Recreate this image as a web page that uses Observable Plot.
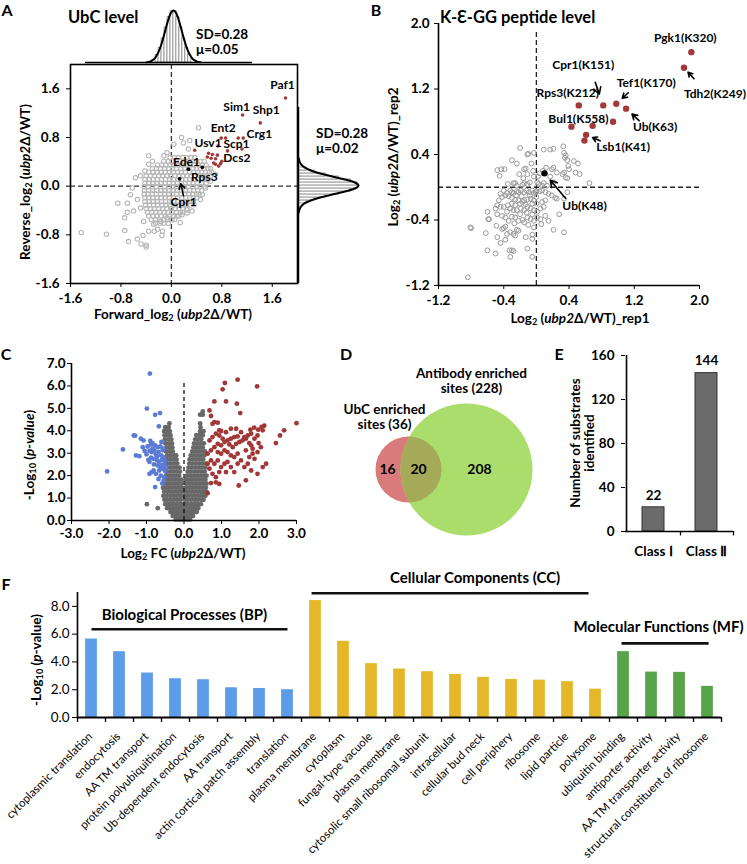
<!DOCTYPE html>
<html><head><meta charset="utf-8">
<script src="https://cdn.jsdelivr.net/npm/d3@7"></script>
<script src="https://cdn.jsdelivr.net/npm/@observablehq/plot@0.6"></script>
<style>
body{margin:0;background:#fff;}
#root{position:relative;width:747px;height:864px;overflow:hidden;background:#fff;font-family:Lato,"Open Sans",sans-serif;color:#000}
sub{font-size:0.68em;vertical-align:-0.25em;line-height:0}
</style></head><body><div id="root"></div>
<script>
// ---------------- DATA ----------------
// Panel A: UbC level scatter (Forward vs Reverse log2 ratios)
const aCoreRows = [
 [0.47,[-0.02,0.05,0.11,0.18,0.24,0.31,0.37]],
 [0.41,[-0.12,-0.05,0.01,0.08,0.14,0.2,0.27,0.33,0.4,0.46,0.52]],
 [0.35,[-0.22,-0.15,-0.09,-0.02,0.04,0.11,0.17,0.23,0.3,0.36,0.43,0.49,0.55]],
 [0.29,[-0.3,-0.24,-0.17,-0.11,-0.04,0.02,0.08,0.15,0.21,0.34,0.4,0.46,0.52,0.58,0.62]],
 [0.23,[-0.36,-0.29,-0.23,-0.16,-0.1,-0.03,0.03,0.1,0.16,0.22,0.29,0.35,0.42,0.48,0.54,0.6,0.64]],
 [0.17,[-0.4,-0.33,-0.27,-0.2,-0.14,-0.07,-0.01,0.06,0.12,0.18,0.25,0.31,0.38,0.44,0.5,0.56,0.62]],
 [0.11,[-0.42,-0.35,-0.29,-0.22,-0.16,-0.09,-0.03,0.04,0.1,0.16,0.23,0.29,0.35,0.42,0.48,0.54,0.58]],
 [0.05,[-0.42,-0.36,-0.29,-0.23,-0.16,-0.1,-0.03,0.03,0.09,0.16,0.22,0.28,0.35,0.41,0.48,0.55]],
 [-0.01,[-0.43,-0.37,-0.3,-0.24,-0.17,-0.11,-0.04,0.02,0.08,0.15,0.21,0.27,0.34,0.4,0.46,0.52]],
 [-0.07,[-0.43,-0.36,-0.3,-0.23,-0.17,-0.1,-0.04,0.03,0.09,0.16,0.22,0.29,0.35,0.42,0.48]],
 [-0.13,[-0.43,-0.37,-0.3,-0.24,-0.17,-0.11,-0.04,0.02,0.08,0.15,0.21,0.28,0.34,0.4,0.44]],
 [-0.19,[-0.42,-0.36,-0.29,-0.23,-0.16,-0.1,-0.03,0.03,0.1,0.16,0.23,0.29,0.35,0.4]],
 [-0.25,[-0.42,-0.35,-0.29,-0.22,-0.16,-0.09,-0.03,0.04,0.1,0.17,0.23,0.29,0.35]],
 [-0.31,[-0.41,-0.35,-0.28,-0.22,-0.15,-0.09,-0.02,0.04,0.11,0.17,0.24,0.3]],
 [-0.37,[-0.4,-0.33,-0.27,-0.2,-0.14,-0.07,-0.01,0.06,0.12,0.18,0.24]],
 [-0.43,[-0.38,-0.31,-0.25,-0.18,-0.12,-0.05,0.01,0.08,0.14,0.18]],
 [-0.49,[-0.36,-0.29,-0.23,-0.16,-0.1,-0.03,0.03,0.09,0.12]],
 [-0.55,[-0.32,-0.25,-0.19,-0.12,-0.06,0.01,0.05]],
 [-0.61,[-0.25,-0.18,-0.12,-0.05]]
];
const aGrayOuter = [
 [-1.43,-0.76],[-1.03,-0.79],[-0.85,-0.28],[-0.70,-0.28],[-0.70,-0.43],[-0.74,-0.52],[-0.74,-0.73],[-0.68,-0.91],
 [-0.48,-0.95],[-0.40,-0.97],[-0.40,-1.0],[-0.54,-0.87],[-0.45,-0.81],[-0.27,-0.74],[-0.14,-0.74],[-0.15,-0.81],
 [-0.36,0.36],[-0.30,0.41],[-0.42,0.25],[-0.49,0.17],[-0.57,0.14],[-0.62,-0.03],[-0.65,-0.14],[-0.54,-0.22],
 [-0.49,-0.36],[-0.60,-0.41],[-0.44,-0.58],[-0.28,-0.63],[-0.17,-0.58],[-0.07,-0.52],[0.04,-0.49],[0.17,-0.47],
 [0.25,-0.39],[0.36,-0.30],[0.46,-0.22],[0.49,-0.14],[0.54,-0.03],[0.62,0.08],[0.70,0.19],[0.25,-0.44],[0.14,-0.60],
 [0.33,-0.41],[-0.22,-0.71],[-0.36,-0.74],[0.43,0.96],[0.16,0.80],[0.19,0.71],[0.29,0.75],[0.27,0.61],[0.04,0.69],
 [-0.07,0.55],[-0.12,0.50],[-0.36,0.50]
];
const aRedX = [1.81,1.13,1.41,1.14,1.06,1.12,0.79,0.86,0.74,0.89,0.37,0.59,0.65,0.73,0.57,0.63,0.70,0.80,0.75,0.70,0.67,0.78];
const aRedY = [1.45,1.17,1.04,0.79,0.79,0.61,0.79,0.79,0.66,0.58,0.59,0.54,0.52,0.51,0.48,0.46,0.45,0.41,0.33,0.36,0.38,0.37];
const aRedNames = ["Paf1","Sim1","Shp1","Crg1","","","Ent2","","Usv1","Scp1","","","","","","","","Dcs2","","","",""];
const aBlackX = [0.27,0.49,0.13];
const aBlackY = [0.28,0.31,0.12];
const aBlackNames = ["Ede1","Rps3","Cpr1"];
const aTicks = [-1.6,-0.8,0,0.8,1.6];
// marginal histograms (top: forward, right: reverse)
const topBinX = [-0.5,-0.4,-0.3,-0.2,-0.1,0,0.1,0.2,0.3,0.4,0.5,0.6];
const topBinN = [7.5,14.3,24,35,45.3,51.2,51.2,45.3,35,24,14.3,7.5];
const topCurveX = [-0.85,-0.75,-0.65,-0.55,-0.45,-0.35,-0.25,-0.15,-0.05,0.05,0.15,0.25,0.35,0.45,0.55,0.65,0.75,0.85,0.95];
const topCurveN = [0.3,0.9,2.3,5.2,10.6,18.7,29.3,40.3,48.8,52,48.8,40.3,29.3,18.7,10.6,5.2,2.3,0.9,0.3];
const rightBinY = [-0.53,-0.43,-0.33,-0.23,-0.13,-0.03,0.07,0.17,0.27,0.37,0.47,0.57];
const rightBinN = [7.5,14.3,24,35,45.3,51.2,51.2,45.3,35,24,14.3,7.5];
const rightCurveY = [-0.88,-0.78,-0.68,-0.58,-0.48,-0.38,-0.28,-0.18,-0.08,0.02,0.12,0.22,0.32,0.42,0.52,0.62,0.72,0.82,0.92];
const rightCurveN = [0.3,0.9,2.3,5.2,10.6,18.7,29.3,40.3,48.8,52,48.8,40.3,29.3,18.7,10.6,5.2,2.3,0.9,0.3];

// Panel B: K-e-GG peptide level
const bGray = [
 [-0.20,0.48],[-0.11,0.40],[-0.10,0.41],[-0.03,0.42],[-0.24,0.29],[-0.30,0.33],[-0.15,0.22],[-0.13,0.23],[0.09,0.46],[0.17,0.46],
 [0.21,0.47],[0.33,0.50],[0.34,0.42],[0.36,0.39],[0.35,0.36],[0.38,0.33],[0.39,0.26],[0.40,0.22],[0.46,0.32],[0.51,0.29],
 [0.48,0.18],[0.53,0.16],[0.65,0.05],[-0.48,0.21],[-0.43,0.22],[-0.39,0.22],[-0.45,0.14],[-0.35,0.04],[-0.28,0.05],[-0.26,0.05],
 [-0.21,0.16],[-0.16,0.11],[-0.11,0.16],[-0.06,0.29],[-0.04,0.20],[-0.03,0.13],[0.02,0.13],[0.04,0.17],[0.08,0.20],[0.12,0.24],
 [0.19,0.22],[0.21,0.24],[0.25,0.18],[0.32,0.16],[0.34,0.18],[0.36,0.12],[0.38,0.11],[0.17,0.13],[0.21,0.06],[0.09,0.05],
 [0.13,0.02],[0.07,0.02],[0.03,0.04],[0.01,0.06],[-0.08,0.06],[-0.11,0.04],[-0.17,0.03],[-0.15,0.05],[-0.24,0.02],
 [-0.36,-0.07],[-0.32,-0.04],[-0.30,-0.06],[-0.28,-0.07],[-0.24,-0.05],[-0.22,-0.06],[-0.19,-0.04],[-0.15,-0.06],[-0.12,-0.04],
 [-0.09,-0.06],[-0.05,-0.04],[-0.03,-0.07],[-0.01,-0.06],[0.04,-0.05],[0.07,-0.04],[0.11,-0.06],[0.15,-0.08],[0.19,-0.10],
 [0.23,-0.13],[0.25,-0.14],[0.34,-0.14],[0.38,-0.06],[0.11,-0.16],[0.07,-0.18],[0.00,-0.20],[-0.03,-0.16],[-0.07,-0.14],
 [-0.11,-0.15],[-0.15,-0.16],[-0.17,-0.18],[-0.22,-0.16],[-0.26,-0.15],[-0.30,-0.13],[-0.34,-0.11],[-0.38,-0.10],[-0.42,-0.12],
 [-0.46,-0.16],[-0.48,-0.22],[-0.50,-0.26],[-0.44,-0.24],[-0.40,-0.24],[-0.35,-0.22],[-0.32,-0.26],[-0.28,-0.28],[-0.24,-0.28],
 [-0.19,-0.26],[-0.15,-0.28],[-0.11,-0.24],[-0.07,-0.26],[-0.03,-0.28],[0.01,-0.30],[0.05,-0.26],[0.09,-0.24],[-0.60,-0.30],
 [-0.58,-0.39],[-0.59,-0.39],[-0.48,-0.33],[-0.42,-0.35],[-0.38,-0.37],[-0.34,-0.41],[-0.30,-0.36],[-0.26,-0.37],[-0.22,-0.41],
 [-0.17,-0.40],[-0.15,-0.43],[-0.11,-0.37],[-0.07,-0.39],[-0.03,-0.41],[0.01,-0.37],[0.05,-0.39],[0.06,-0.45],[0.11,-0.35],
 [0.15,-0.41],[0.21,-0.52],[0.28,-0.33],[0.34,-0.55],[-0.49,-0.47],[-0.81,-0.49],[-0.80,-0.50],[-0.62,-0.56],[-0.48,-0.61],
 [-0.42,-0.51],[-0.40,-0.50],[-0.38,-0.48],[-0.36,-0.57],[-0.32,-0.55],[-0.28,-0.57],[-0.26,-0.59],[-0.24,-0.52],[-0.22,-0.53],
 [-0.13,-0.61],[-0.05,-0.58],[-0.03,-0.49],[-0.60,-0.77],[-0.50,-0.81],[-0.44,-0.68],[-0.38,-0.64],[-0.33,-0.77],[-0.30,-0.77],
 [-0.28,-0.78],[-0.32,-0.85],[-0.11,-0.75],[-0.05,-0.85],[-0.05,-0.63],[-0.84,-1.10],
 [-0.30,-0.20],[-0.26,-0.22],[-0.20,-0.20],[-0.13,-0.21],[-0.05,-0.20],[-0.18,-0.11],[-0.08,-0.10],[0.00,-0.12],[-0.25,-0.10],
 [-0.20,-0.33],[-0.12,-0.31],[-0.05,-0.33],[-0.36,-0.30],[-0.27,-0.44],[-0.10,-0.46],[0.00,-0.05],[-0.40,-0.04],[-0.44,-0.08]
];
const bRedX = [1.90,1.81,0.52,0.82,0.98,1.10,0.94,0.43,0.69,0.61,0.59];
const bRedY = [1.65,1.46,1.00,1.00,1.02,0.96,0.80,0.74,0.75,0.64,0.57];
const bRedNames = ["Pgk1(K320)","Tdh2(K249)","Rps3(K212)","Cpr1(K151)","Tef1(K170)","Ub(K63)","","Bul1(K558)","","Lsb1(K41)",""];
const bBlackX = [0.10];
const bBlackY = [0.17];
const bBlackNames = ["Ub(K48)"];
const bTicks = [-1.2,-0.4,0.4,1.2,2.0];

// Panel C: volcano plot
const cGrayRows = [
 [0.05,[-0.22,-0.15,-0.08,-0.02,0.04,0.1,0.16]],
 [0.2,[-0.3,-0.22,-0.14,-0.06,0.02,0.09,0.17,0.24]],
 [0.38,[-0.36,-0.28,-0.19,-0.11,-0.03,0.04,0.12,0.2,0.28,0.34]],
 [0.55,[-0.7,-0.45,-0.38,-0.3,-0.21,-0.12,-0.04,0.05,0.14,0.22,0.3,0.38]],
 [0.73,[-0.99,-0.5,-0.41,-0.33,-0.25,-0.16,-0.07,0.03,0.11,0.2,0.29,0.37,0.45]],
 [0.92,[-0.52,-0.44,-0.35,-0.27,-0.18,-0.09,0.02,0.1,0.19,0.28,0.36,0.45,0.52]],
 [1.1,[-0.55,-0.46,-0.37,-0.28,-0.2,-0.11,-0.03,0.05,0.13,0.22,0.31,0.4,0.49,0.57]],
 [1.28,[-0.53,-0.44,-0.35,-0.26,-0.17,-0.08,0.02,0.1,0.19,0.28,0.37,0.46,0.54,0.6]],
 [1.46,[-0.56,-0.48,-0.4,-0.31,-0.22,-0.13,-0.05,0.05,0.14,0.23,0.32,0.41,0.5,0.58]],
 [1.64,[-0.52,-0.44,-0.35,-0.26,-0.17,-0.08,0.07,0.16,0.25,0.34,0.43,0.52,0.6]],
 [1.82,[-0.5,-0.42,-0.33,-0.24,-0.15,-0.07,0.04,0.12,0.21,0.3,0.39,0.48,0.57]],
 [2.0,[-0.48,-0.4,-0.31,-0.22,-0.13,0.08,0.17,0.26,0.35,0.44,0.53,0.6]],
 [2.18,[-0.46,-0.37,-0.28,-0.19,-0.11,0.1,0.19,0.28,0.37,0.46,0.55]],
 [2.36,[-0.45,-0.36,-0.28,-0.2,-0.12,0.12,0.21,0.3,0.39,0.48,0.57]],
 [2.54,[-0.44,-0.35,-0.26,-0.18,0.14,0.22,0.31,0.4,0.49,0.58]],
 [2.72,[-0.46,-0.37,-0.28,-0.2,0.15,0.24,0.33,0.42,0.51]],
 [2.9,[-0.45,-0.36,-0.27,-0.21,0.18,0.27,0.36,0.45,0.54]],
 [3.08,[-0.48,-0.39,-0.3,0.22,0.3,0.39,0.48,0.56]],
 [3.26,[-0.47,-0.38,-0.31,0.25,0.33,0.42,0.5]],
 [3.44,[-0.5,-0.41,-0.32,0.27,0.36,0.45,0.53]],
 [3.62,[-0.51,-0.42,-0.34,0.3,0.38,0.46]],
 [3.8,[-0.52,-0.43,-0.36,0.33,0.42,0.5]],
 [3.98,[-0.53,-0.45,-0.38,0.43,0.52]],
 [4.16,[-0.5,-0.41,0.44]],
 [4.33,[-0.39,0.43]],
 [4.72,[0.43,0.5]],
 [4.86,[0.5]]
];
const cBlue = [
 [-0.91,6.55],[-0.99,4.99],[-0.77,4.71],[-0.64,4.79],[-0.67,4.2],[-1.34,3.79],[-1.30,3.78],[-1.15,3.65],[-1.08,3.57],[-1.63,3.17],
 [-2.05,2.19],[-1.28,2.9],[-1.19,2.87],[-1.10,3.27],[-0.97,3.3],[-0.88,3.39],[-0.84,3.2],[-0.77,3.35],[-0.70,3.27],[-0.63,3.3],
 [-0.57,3.13],[-0.92,3.1],[-0.86,3.05],[-0.79,3.13],[-0.75,2.95],[-0.68,3.05],[-0.61,2.9],[-0.54,2.83],[-0.81,2.75],[-0.72,2.68],
 [-0.66,2.61],[-0.59,2.71],[-0.52,2.53],[-0.92,2.61],[-0.86,2.16],[-0.92,2.08],[-0.81,2.23],[-0.75,2.08],[-0.70,2.46],[-0.63,2.38],
 [-0.57,2.31],[-0.66,2.23],[-0.52,1.93],[-0.54,1.79],[-0.77,1.49],[-0.48,2.38],[-0.51,2.68],[-0.59,2.46],[-1.0,2.95],[-0.95,2.7],
 [-0.88,2.8],[-0.8,2.5],[-0.72,2.85],[-0.6,3.5],[-0.55,3.2],[-1.05,3.1],[-0.9,3.55],[-0.84,3.45],[-0.5,2.2],[-0.62,2.0],
 [-0.68,1.85],[-0.58,1.65]
];
const cRed = [
 [1.09,6.13],[1.43,6.28],[1.03,5.85],[1.95,5.98],[0.81,5.31],[1.12,5.31],[1.41,5.21],[0.68,4.91],[0.72,4.66],[1.50,4.79],
 [0.81,4.39],[0.90,4.36],[0.76,4.31],[0.94,4.02],[0.99,3.99],[1.39,4.09],[1.77,4.05],[1.87,4.14],[1.98,4.05],[2.07,4.17],
 [2.14,4.23],[2.10,4.02],[3.0,4.34],[2.67,4.02],[2.56,3.79],[2.45,3.45],[1.99,3.45],[1.74,3.45],[1.79,3.35],[1.83,3.2],
 [2.19,2.53],[2.10,2.38],[1.52,2.68],[1.70,2.53],[1.88,2.75],[1.34,2.16],[1.46,1.56],[1.65,1.79],[0.63,1.22],[0.72,1.67],
 [0.85,1.70],[0.94,1.63],[0.63,2.98],[0.72,3.13],[0.81,3.27],[0.90,3.42],[0.99,3.35],[1.08,3.50],[1.16,3.57],[1.25,3.65],
 [1.34,3.72],[1.43,3.75],[1.21,3.39],[1.30,3.27],[1.39,3.42],[1.48,3.50],[1.56,3.57],[1.65,3.65],[0.90,3.05],[0.99,2.98],
 [1.08,3.13],[1.16,3.05],[1.25,2.90],[1.34,2.83],[1.43,2.98],[0.72,2.68],[0.81,2.53],[0.90,2.68],[0.99,2.38],[1.08,2.53],
 [1.16,2.61],[1.25,2.38],[0.68,2.31],[0.76,2.08],[0.85,1.93],[0.94,2.16],[1.12,2.16],[0.63,2.53],[0.68,3.57],[0.76,3.72],
 [0.85,3.87],[0.94,3.79],[1.03,3.65],[1.12,3.94],[1.25,4.09],[1.70,3.79],[1.79,3.87],[1.88,3.65],[1.96,3.79],[1.52,3.94],
 [1.61,3.72],[1.65,3.13],[1.74,2.83],[1.83,2.98],[1.96,3.05],[2.05,3.27],[1.43,2.53],[1.61,2.38],[1.79,2.23],[1.96,2.08]
];

// Panel D: Venn counts
const vennOnlyUbC = 16, vennShared = 20, vennOnlyAb = 208;
const vennTotals = [36, 228];

// Panel E: substrates per class
const eClasses = ["Class \u2160", "Class \u2161"];
const eCounts = [22, 144];

// Panel F: GO enrichment
const fTerms = ["cytoplasmic translation","endocytosis","AA TM transport","protein polyubiquitination","Ub-dependent endocytosis",
 "AA transport","actin cortical patch assembly","translation","plasma membrane","cytoplasm","fungal-type vacuole","plasma membrane",
 "cytosolic small ribosomal subunit","intracellular","cellular bud neck","cell periphery","ribosome","lipid particle","polysome",
 "ubiquitin binding","antiporter activity","AA TM transporter activity","structural constituent of ribosome"];
const fValues = [5.65,4.74,3.20,2.79,2.72,2.14,2.09,2.00,8.42,5.49,3.88,3.49,3.30,3.10,2.89,2.74,2.69,2.58,2.04,4.74,3.27,3.25,2.24];
const fGroups = ["BP","BP","BP","BP","BP","BP","BP","BP","CC","CC","CC","CC","CC","CC","CC","CC","CC","CC","CC","MF","MF","MF","MF"];
const fGroupNames = {BP:"Biological Processes (BP)", CC:"Cellular Components (CC)", MF:"Molecular Functions (MF)"};

// ---------------- HELPERS ----------------
const FONT = "Lato, 'Open Sans', sans-serif";
const root = document.getElementById("root");
const fmt1 = d => (+d).toFixed(1);
const baseStyle = {fontFamily: FONT, fontSize: "13.5px", fontWeight: "bold", background: "transparent", overflow: "visible", color: "#000"};
function place(el, left, top) {
  el.style.position = "absolute"; el.style.left = left + "px"; el.style.top = top + "px";
  el.style.maxWidth = "none";
  root.appendChild(el); return el;
}
function label(html, x, y, o = {}) {
  const d = document.createElement("div");
  d.innerHTML = html;
  const start = o.anchor === "start";
  d.style.cssText = `position:absolute;left:${x}px;top:${y}px;font-size:${o.size || 13}px;font-weight:${o.weight || "bold"};` +
    `white-space:nowrap;line-height:${o.lh || 1.1};text-align:center;` +
    `transform:translate(${start ? "0" : "-50%"},-50%) rotate(${o.rot || 0}deg);transform-origin:${start ? "0 50%" : "50% 50%"}`;
  root.appendChild(d);
}
const pts = (xs, ys, names) => xs.map((x, i) => ({x, y: ys[i], name: names ? names[i] : ""}));

// ---------------- PANEL A ----------------
const aGray = [];
aCoreRows.forEach(([y, xs]) => xs.forEach(x => aGray.push({x, y})));
aGrayOuter.forEach(([x, y]) => aGray.push({x, y}));
const aRed = pts(aRedX, aRedY, aRedNames);
const aBlack = pts(aBlackX, aBlackY, aBlackNames);
const aOff = {Paf1:[-3,-13], Sim1:[-6,-8], Shp1:[6,-13], Crg1:[16,-4], Ent2:[2,-10], Usv1:[-10,-3], Scp1:[9,-7], Dcs2:[15,-3],
  Ede1:[-2,-7], Rps3:[2,10], Cpr1:[4,23]};
const aW = 370, aH = 320, aML = 70, aMR = 73, aMT = 64, aMB = 37;
const akx = (aW - aML - aMR) / 3.6, aky = (aH - aMT - aMB) / 3.6;
const aLabelled = [...aRed, ...aBlack].filter(d => d.name);
const aCpr = aBlack.filter(d => d.name === "Cpr1");
const plotA = Plot.plot({
  width: aW, height: aH, marginLeft: aML, marginRight: aMR, marginTop: aMT, marginBottom: aMB,
  style: baseStyle,
  x: {domain: [-1.6, 2.0], ticks: aTicks, tickFormat: fmt1, tickSize: 4, tickPadding: 6, label: null},
  y: {domain: [-1.6, 2.0], ticks: aTicks, tickFormat: fmt1, tickSize: 4, tickPadding: 7, label: null},
  marks: [
    Plot.ruleX([0], {stroke: "#333", strokeWidth: 1.3, strokeDasharray: "5,3"}),
    Plot.ruleY([0], {stroke: "#333", strokeWidth: 1.3, strokeDasharray: "5,3"}),
    Plot.dot(aGray, {x: "x", y: "y", r: 2.2, stroke: "#b6b6b6", strokeWidth: 1.1}),
    Plot.dot(aRed, {x: "x", y: "y", r: 1.8, fill: "#a33a3a"}),
    Plot.dot(aBlack, {x: "x", y: "y", r: 1.9, fill: "#000"}),
    ...aLabelled.map(d => Plot.text([d], {x: "x", y: "y", text: "name", dx: aOff[d.name][0], dy: aOff[d.name][1], fontSize: 12, fontWeight: "bold"})),
    Plot.arrow(aCpr, {x1: d => d.x + 4 / akx, y1: d => d.y - 17 / aky, x2: "x", y2: "y", insetEnd: 5, headLength: 6, strokeWidth: 1.5, stroke: "#000"}),
    Plot.frame({stroke: "#000", strokeWidth: 1.6})
  ]
});
place(plotA, 0, 0);

const topBins = topBinX.map((x, i) => ({x, n: topBinN[i]}));
const topCurve = topCurveX.map((x, i) => ({x, n: topCurveN[i]}));
const plotTop = Plot.plot({
  width: 180, height: 66, marginLeft: 5, marginRight: 8, marginTop: 10, marginBottom: 4, style: baseStyle,
  x: {domain: [-2.9, 2.7], axis: null}, y: {domain: [0, 52], axis: null},
  marks: [
    Plot.rectY(topBins, {x1: d => d.x - 0.05, x2: d => d.x + 0.05, y: "n", fill: "white", stroke: "#666", strokeWidth: 0.6}),
    Plot.line(topCurve, {x: "x", y: "n", curve: "natural", stroke: "#000", strokeWidth: 2}),
    Plot.ruleY([0], {stroke: "#000", strokeWidth: 1.5})
  ]
});
place(plotTop, 80, 0);

const rightBins = rightBinY.map((y, i) => ({y, n: rightBinN[i]}));
const rightCurve = rightCurveY.map((y, i) => ({y, n: rightCurveN[i]}));
const plotRight = Plot.plot({
  width: 70, height: 190, marginLeft: 2, marginRight: 8, marginTop: 7, marginBottom: 7, style: baseStyle,
  x: {domain: [0, 52], axis: null}, y: {domain: [-3.25, 2.62], axis: null},
  marks: [
    Plot.rectX(rightBins, {y1: d => d.y - 0.05, y2: d => d.y + 0.05, x: "n", fill: "white", stroke: "#666", strokeWidth: 0.6}),
    Plot.line(rightCurve, {x: "n", y: "y", curve: "natural", stroke: "#000", strokeWidth: 2}),
    Plot.ruleX([0], {stroke: "#000", strokeWidth: 1.5})
  ]
});
place(plotRight, 296, 100);

label("A", 7, 10, {size: 16, lh: 1});
label("UbC level", 68, 17, {size: 16.5, anchor: "start"});
label("SD=0.28", 196, 34, {size: 13.5, anchor: "start"});
label("\u03bc=0.05", 196, 49, {size: 13.5, anchor: "start"});
label("SD=0.28", 316, 133, {size: 13.5, anchor: "start"});
label("\u03bc=0.02", 316, 148, {size: 13.5, anchor: "start"});
label("Reverse_log<sub>2</sub> (<i>ubp2</i>\u0394/WT)", 25, 182, {size: 13.5, rot: -90});
label("Forward_log<sub>2</sub> (<i>ubp2</i>\u0394/WT)", 173, 314, {size: 13.5});

// ---------------- PANEL B ----------------
const bGrayPts = bGray.map(([x, y]) => ({x, y}));
const bRed = pts(bRedX, bRedY, bRedNames);
const bBlack = pts(bBlackX, bBlackY, bBlackNames);
const bW = 377, bH = 320, bML = 68, bMR = 48, bMT = 23, bMB = 35;
const bkx = (bW - bML - bMR) / 3.2, bky = (bH - bMT - bMB) / 3.2;
const bOff = {"Pgk1(K320)":[-6,-14], "Tdh2(K249)":[31,26], "Cpr1(K151)":[-20,-40], "Tef1(K170)":[30,-21], "Rps3(K212)":[-11,-12],
  "Bul1(K558)":[7,-8], "Ub(K63)":[29,19], "Lsb1(K41)":[37,12], "Ub(K48)":[40,33]};
// arrow tails, pixel offsets from the point, and head gap
const bArrow = {"Cpr1(K151)":[-8,-23,12], "Tef1(K170)":[12,-11,8], "Ub(K63)":[13,12,8], "Tdh2(K249)":[10,11,6], "Lsb1(K41)":[14,6,7], "Ub(K48)":[21,25,9]};
const bLabelled = [...bRed, ...bBlack].filter(d => d.name);
const plotB = Plot.plot({
  width: bW, height: bH, marginLeft: bML, marginRight: bMR, marginTop: bMT, marginBottom: bMB, style: baseStyle,
  x: {domain: [-1.2, 2.0], ticks: bTicks, tickFormat: fmt1, tickSize: 4, tickPadding: 6, label: null},
  y: {domain: [-1.2, 2.0], ticks: bTicks, tickFormat: fmt1, tickSize: 4, tickPadding: 5, label: null},
  marks: [
    Plot.ruleX([0], {y1: -1.2, y2: 1.9, stroke: "#222", strokeWidth: 1.3, strokeDasharray: "5,3"}),
    Plot.ruleY([0], {stroke: "#222", strokeWidth: 1.3, strokeDasharray: "5,3"}),
    Plot.dot(bGrayPts, {x: "x", y: "y", r: 2.4, stroke: "#9a9a9a", strokeWidth: 1}),
    Plot.dot(bRed, {x: "x", y: "y", r: 3.2, fill: "#a33a3a"}),
    Plot.dot(bBlack, {x: "x", y: "y", r: 3.2, fill: "#000"}),
    ...bLabelled.map(d => Plot.text([d], {x: "x", y: "y", text: "name", dx: bOff[d.name][0], dy: bOff[d.name][1], fontSize: 12, fontWeight: "bold"})),
    ...bLabelled.filter(d => bArrow[d.name]).map(d => Plot.arrow([d], {
      x1: e => e.x + bArrow[d.name][0] / bkx, y1: e => e.y - bArrow[d.name][1] / bky, x2: "x", y2: "y",
      insetEnd: bArrow[d.name][2], headLength: 7, strokeWidth: 1.6, stroke: "#000"})),
    Plot.ruleX([-1.2], {stroke: "#000", strokeWidth: 1.6}),
    Plot.ruleY([-1.2], {stroke: "#000", strokeWidth: 1.6})
  ]
});
place(plotB, 370, 0);
label("B", 376, 10, {size: 16, lh: 1});
label("K-\u0190-GG peptide level", 440, 17, {size: 16.5, anchor: "start"});
label("Log<sub>2</sub> (<i>ubp2</i>\u0394/WT)_rep2", 393, 157, {size: 13.5, rot: -90});
label("Log<sub>2</sub> (<i>ubp2</i>\u0394/WT)_rep1", 580, 318, {size: 13.5});

// ---------------- PANEL C ----------------
const cGray = [];
cGrayRows.forEach(([y, xs]) => xs.forEach(x => cGray.push({x, y})));
const plotC = Plot.plot({
  width: 320, height: 240, marginLeft: 71, marginRight: 24, marginTop: 33, marginBottom: 50, style: baseStyle,
  x: {domain: [-3, 3], ticks: d3.range(-3, 4), tickFormat: fmt1, tickSize: 4, tickPadding: 4, label: null},
  y: {domain: [0, 7], ticks: d3.range(0, 8), tickFormat: fmt1, tickSize: 4, tickPadding: 2, label: null},
  marks: [
    Plot.dot(cGray, {x: "x", y: "y", r: 2.4, fill: "#686868"}),
    Plot.dot(cBlue.map(([x, y]) => ({x, y})), {x: "x", y: "y", r: 2.4, fill: "#5a7bd5"}),
    Plot.dot(cRed.map(([x, y]) => ({x, y})), {x: "x", y: "y", r: 2.4, fill: "#a13737"}),
    Plot.ruleX([0], {y1: 0, y2: 6.2, stroke: "#111", strokeWidth: 1.3, strokeDasharray: "4,3"}),
    Plot.ruleX([-3], {stroke: "#000", strokeWidth: 1.6}),
    Plot.ruleY([0], {stroke: "#000", strokeWidth: 1.6})
  ]
});
place(plotC, 0, 330);
label("C", 6, 354, {size: 16, lh: 1});
label("-Log<sub>10</sub> (<i>p-value</i>)", 29, 455, {size: 13.5, rot: -90});
label("Log<sub>2</sub> FC (<i>ubp2</i>\u0394/WT)", 183, 553, {size: 13.5});

// ---------------- PANEL D ----------------
const vennCircles = [
  {name: `UbC enriched\nsites (${vennTotals[0]})`, cx: 78, cy: 139, r: 33},
  {name: `Antibody enriched\nsites (${vennTotals[1]})`, cx: 136, cy: 139, r: 66}
];
const vennCounts = [
  {n: vennOnlyUbC, x: 57, y: 139},
  {n: vennShared, x: 88, y: 139},
  {n: vennOnlyAb, x: 149, y: 139}
];
const plotD = Plot.plot({
  width: 220, height: 230, margin: 0, style: baseStyle,
  x: {type: "identity", axis: null}, y: {type: "identity", axis: null},
  marks: [
    Plot.dot([vennCircles[0]], {x: "cx", y: "cy", r: vennCircles[0].r, fill: "#d97a7c"}),
    Plot.dot([vennCircles[1]], {x: "cx", y: "cy", r: vennCircles[1].r, fill: "#abdd6c"}),
    Plot.dot([vennCircles[0]], {x: "cx", y: "cy", r: vennCircles[0].r, fill: "#a4aa58"}),
    Plot.text(vennCounts, {x: "x", y: "y", text: d => String(d.n), fontSize: 14, fontWeight: "bold"}),
    Plot.text([vennCircles[0]], {x: 54, y: 86, text: "name", fontSize: 13.5, fontWeight: "bold", lineHeight: 1.15}),
    Plot.text([vennCircles[1]], {x: 141, y: 50, text: "name", fontSize: 13.5, fontWeight: "bold", lineHeight: 1.15})
  ]
});
{
  const groups = plotD.querySelectorAll('g[aria-label="dot"]');
  const green = groups[1].querySelector("circle");
  const ns = "http://www.w3.org/2000/svg";
  const defs = document.createElementNS(ns, "defs");
  const cp = document.createElementNS(ns, "clipPath");
  cp.setAttribute("id", "vennClip");
  cp.appendChild(green.cloneNode(true));
  defs.appendChild(cp);
  plotD.insertBefore(defs, plotD.firstChild);
  groups[2].setAttribute("clip-path", "url(#vennClip)");
}
place(plotD, 330, 330);
label("D", 346, 354, {size: 16, lh: 1});

// ---------------- PANEL E ----------------
const eData = eClasses.map((c, i) => ({c, n: eCounts[i]}));
const plotE = Plot.plot({
  width: 187, height: 240, marginLeft: 65, marginRight: 14, marginTop: 25, marginBottom: 39, style: baseStyle,
  x: {domain: eClasses, paddingInner: 0.59, paddingOuter: 0.3, tickSize: 0, tickPadding: 15, label: null},
  y: {domain: [0, 160], ticks: [0, 40, 80, 120, 160], tickSize: 4, tickPadding: 7, label: null},
  marks: [
    Plot.barY(eData, {x: "c", y: "n", fill: "#6b6b6b", stroke: "#333", strokeWidth: 1}),
    Plot.text(eData, {x: "c", y: "n", text: d => String(d.n), dy: -12, fontSize: 13.5, fontWeight: "bold"}),
    Plot.ruleY([0], {stroke: "#000", strokeWidth: 1.6}),
    Plot.ruleX([eClasses[0]], {dx: -27, y1: 0, y2: 160, stroke: "#000", strokeWidth: 1.6}),
    Plot.ruleX(eClasses, {dx: 27, y1: 0, y2: -4, stroke: "#000", strokeWidth: 1.3})
  ]
});
place(plotE, 560, 330);
label("E", 559, 354, {size: 16, lh: 1});
label("Number of substrates<br>identified", 582, 443, {size: 13.5, rot: -90, lh: 1.0});

// ---------------- PANEL F ----------------
const fColor = {BP: "#5c9ce8", CC: "#e5b82c", MF: "#57a548"};
const fData = fTerms.map((t, i) => ({i, term: t, v: fValues[i], g: fGroups[i]}));
const groupKeys = ["BP", "CC", "MF"];
const fAnno = {BP: {line: 6.35, text: 7.36, tx: 3.82, a: 0.5, b: 0.5}, CC: {line: 8.95, text: 10.0, tx: 14.2, a: 0.36, b: 0.25}, MF: {line: 5.34, text: 6.5, tx: 20.75, a: 0.43, b: 0.54}};
const fGroupSpans = groupKeys.map(g => {
  const idx = fData.filter(d => d.g === g).map(d => d.i);
  return {g, first: d3.min(idx), last: d3.max(idx)};
});
const plotF = Plot.plot({
  width: 747, height: 304, marginLeft: 77, marginRight: 26, marginTop: 32, marginBottom: 147,
  style: {...baseStyle, fontSize: "13.5px", fontWeight: "normal"},
  color: {type: "identity"},
  x: {domain: [0, fTerms.length], axis: null},
  y: {domain: [0, 9], ticks: [0, 2, 4, 6, 8], tickFormat: fmt1, tickSize: 5, tickPadding: 3, label: null},
  marks: [
    Plot.rectY(fData, {x1: d => d.i + 0.29, x2: d => d.i + 0.71, y: "v", fill: d => fColor[d.g]}),
    Plot.ruleY([0], {stroke: "#000", strokeWidth: 2}),
    Plot.ruleX([0], {y1: 0, y2: 9, stroke: "#000", strokeWidth: 1.6}),
    Plot.ruleX(d3.range(fTerms.length + 1), {y1: 0, y2: -0.36, stroke: "#000", strokeWidth: 1.4}),
    Plot.text(fData, {x: d => d.i + 0.5, y: 0, text: "term", rotate: -45, textAnchor: "end", dx: -1, dy: 17, fontSize: 11.5, fontWeight: "normal"}),
    Plot.link(fGroupSpans, {x1: d => d.first + fAnno[d.g].a, x2: d => d.last + fAnno[d.g].b, y1: d => fAnno[d.g].line, y2: d => fAnno[d.g].line, stroke: "#111", strokeWidth: 2.6}),
    Plot.text(fGroupSpans, {x: d => fAnno[d.g].tx, y: d => fAnno[d.g].text, text: d => fGroupNames[d.g], fontSize: 15, fontWeight: "bold"})
  ]
});
place(plotF, 0, 560);
label("F", 6, 584, {size: 16, lh: 1});
label("-Log<sub>10</sub> (<i>p</i>-value)", 36, 660, {size: 13.5, rot: -90});
</script></body></html>
